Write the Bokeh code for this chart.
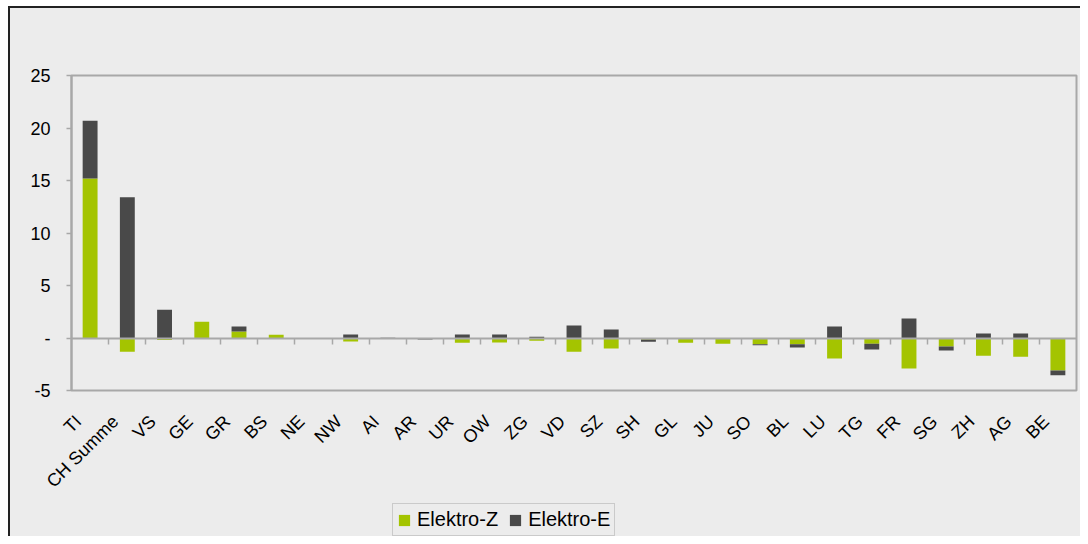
import numpy as np
from math import pi
from bokeh.plotting import figure
from bokeh.layouts import column
from bokeh.models import (LinearAxis, FixedTicker, Range1d, Legend, LegendItem,
                          ColumnDataSource)
from bokeh.embed import file_html
from bokeh.resources import INLINE

# ---- data ----
categories = ["TI", "CH Summe", "VS", "GE", "GR", "BS", "NE", "NW", "AI", "AR", "UR",
              "OW", "ZG", "VD", "SZ", "SH", "GL", "JU", "SO", "BL", "LU", "TG", "FR",
              "SG", "ZH", "AG", "BE"]
elektro_z = [15.2, -1.3, -0.2, 1.55, 0.62, 0.32, 0.0, -0.33, 0.0, 0.0, -0.45,
             -0.42, -0.25, -1.3, -1.0, -0.15, -0.45, -0.55, -0.6, -0.6, -1.95,
             -0.55, -2.9, -0.8, -1.7, -1.78, -3.1]
elektro_e = [5.5, 13.4, 2.7, -0.1, 0.48, -0.1, -0.03, 0.33, 0.02, -0.15, 0.33,
             0.33, 0.13, 1.2, 0.8, -0.2, 0.0, 0.0, -0.1, -0.3, 1.1,
             -0.55, 1.85, -0.38, 0.42, 0.42, -0.45]
y_ticks = [-5, 0, 5, 10, 15, 20, 25]
y_tick_labels = ["-5", "-", "5", "10", "15", "20", "25"]

GREEN = "#a4c400"
DARK = "#494949"
BG = "#ececec"
GRID = "#a8a8a8"
FONT = "Liberation Sans"

n = len(categories)
x = np.arange(n) + 0.5
z = np.array(elektro_z)
e = np.array(elektro_e)
# Excel-style stacking: positives stack up from 0, negatives stack down from 0
e_base = np.where(np.sign(e) == np.sign(z), z, 0.0)
src = ColumnDataSource(dict(x=x, z=z, z0=np.zeros(n), e_top=e_base + e, e_base=e_base))

p = figure(width=1080, height=502, output_backend="svg", toolbar_location=None,
           x_range=Range1d(0, n), y_range=Range1d(-5, 25),
           x_axis_type=None, y_axis_type=None,
           min_border_left=71, min_border_right=4, min_border_top=75,
           min_border_bottom=112,
           background_fill_color=BG, border_fill_color=BG, border_fill_alpha=0)
p.outline_line_color = GRID
p.outline_line_width = 2
p.xgrid.visible = False

p.vbar(x="x", bottom="z0", top="z", width=0.4, source=src,
       fill_color=GREEN, line_color=None)
p.vbar(x="x", bottom="e_base", top="e_top", width=0.4, source=src,
       fill_color=DARK, line_color=None)

# y axis
yax = LinearAxis(ticker=FixedTicker(ticks=y_ticks),
                 major_label_overrides={t: l for t, l in zip(y_ticks, y_tick_labels)})
yax.axis_line_color = GRID
yax.axis_line_width = 2
yax.major_tick_line_color = GRID
yax.major_tick_line_width = 1.5
yax.major_tick_out = 5
yax.major_tick_in = 0
yax.minor_tick_line_color = None
yax.major_label_text_font = FONT
yax.major_label_text_font_size = "18px"
yax.major_label_text_color = "#000000"
yax.major_label_standoff = 16
p.add_layout(yax, "left")

p.ygrid.ticker = FixedTicker(ticks=y_ticks)
p.ygrid.grid_line_color = GRID
p.ygrid.grid_line_width = 1.5

# category labels axis (rotated labels end slightly left of the bar centre)
label_pos = [round(i + 0.18, 2) for i in range(n)]
xax = LinearAxis(ticker=FixedTicker(ticks=label_pos),
                 major_label_overrides={v: c for v, c in zip(label_pos, categories)})
xax.major_label_orientation = pi / 4
xax.axis_line_color = None
xax.major_tick_line_color = None
xax.minor_tick_line_color = None
xax.major_label_text_font = FONT
xax.major_label_text_font_size = "18px"
xax.major_label_text_color = "#000000"
xax.major_label_standoff = 22
p.add_layout(xax, "below")

# zero line with ticks at category boundaries
zax = LinearAxis(ticker=FixedTicker(ticks=list(range(1, n))), fixed_location=0)
zax.axis_line_color = GRID
zax.axis_line_width = 2
zax.major_tick_line_color = GRID
zax.major_tick_line_width = 1.5
zax.major_tick_out = 6
zax.major_tick_in = 0
zax.minor_tick_line_color = None
zax.major_label_text_font_size = "0px"
zax.major_label_text_color = None
p.add_layout(zax, "below")

# ---- legend strip (same series, bars outside its visible range) ----
p2 = figure(width=1080, height=34, output_backend="svg", toolbar_location=None,
            x_range=Range1d(0, n), y_range=Range1d(1000, 1001),
            x_axis_type=None, y_axis_type=None, min_border=0,
            min_border_left=0, min_border_right=0, min_border_top=0,
            min_border_bottom=0,
            background_fill_color=None, border_fill_color=None)
p2.outline_line_color = None
p2.grid.visible = False
lz = p2.vbar(x="x", bottom="z0", top="z", width=0.4, source=src,
             fill_color=GREEN, line_color=None)
le = p2.vbar(x="x", bottom="e_base", top="e_top", width=0.4, source=src,
             fill_color=DARK, line_color=None)

legend = Legend(items=[LegendItem(label="Elektro-Z", renderers=[lz]),
                       LegendItem(label="Elektro-E", renderers=[le])],
                orientation="horizontal", location=(321, 0))
legend.label_text_font = FONT
legend.label_text_font_size = "20px"
legend.label_text_color = "#000000"
legend.glyph_width = 14
legend.glyph_height = 14
legend.label_standoff = 6
legend.spacing = 10
legend.padding = 4
legend.margin = 0
legend.border_line_color = "#a8a8a8"
legend.border_line_width = 1
legend.background_fill_color = BG
legend.background_fill_alpha = 1
p2.add_layout(legend, "center")

layout = column(p, p2, spacing=0,
                styles={"background-color": BG,
                        "box-shadow": "inset 8px 6px 0 0 #ffffff, inset 10px 8px 0 0 #222222"})

open("out.html", "w").write(file_html(layout, INLINE))
